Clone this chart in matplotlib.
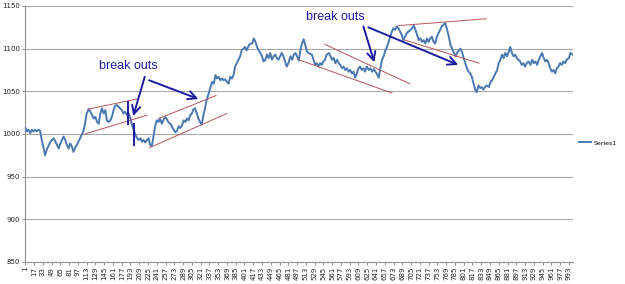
import matplotlib.pyplot as plt

obs = [1, 4, 7, 10, 13, 16, 19, 22, 25, 28, 31, 34, 37, 41, 44, 47, 50, 53, 56, 59,
       62, 65, 68, 71, 74, 77, 80, 83, 86, 89, 92, 95, 98, 101, 104, 107, 110, 113, 117, 120,
       123, 126, 129, 132, 135, 138, 141, 144, 147, 150, 153, 156, 159, 162, 165, 168, 171, 174, 177, 180,
       183, 187, 190, 193, 196, 199, 202, 205, 208, 211, 214, 217, 220, 223, 226, 229, 232, 235, 238, 241,
       244, 247, 250, 253, 256, 259, 262, 266, 269, 272, 275, 278, 281, 284, 287, 290, 293, 296, 299, 302,
       305, 308, 311, 314, 317, 320, 323, 326, 329, 332, 336, 339, 342, 345, 348, 351, 354, 357, 360, 363,
       366, 369, 372, 375, 378, 381, 384, 387, 390, 393, 396, 399, 402, 405, 409, 412, 415, 418, 421, 424,
       427, 430, 433, 436, 439, 442, 445, 448, 451, 454, 457, 460, 463, 466, 469, 472, 475, 478, 481, 485,
       488, 491, 494, 497, 500, 503, 506, 509, 512, 515, 518, 521, 524, 527, 530, 533, 536, 539, 542, 545,
       548, 551, 555, 558, 561, 564, 567, 570, 573, 576, 579, 582, 585, 588, 591, 594, 597, 600, 603, 606,
       609, 612, 615, 618, 621, 624, 628, 631, 634, 637, 640, 643, 646, 649, 652, 655, 658, 661, 664, 667,
       670, 673, 676, 679, 682, 685, 688, 691, 694, 697, 700, 704, 707, 710, 713, 716, 719, 722, 725, 728,
       731, 734, 737, 740, 743, 746, 749, 752, 755, 758, 761, 764, 767, 770, 774, 777, 780, 783, 786, 789,
       792, 795, 798, 801, 804, 807, 810, 813, 816, 819, 822, 825, 828, 831, 834, 837, 840, 843, 847, 850,
       853, 856, 859, 862, 865, 868, 871, 874, 877, 880, 883, 886, 889, 892, 895, 898, 901, 904, 907, 910,
       913, 916, 919, 923, 926, 929, 932, 935, 938, 941, 944, 947, 950, 953, 956, 959, 962, 965, 968, 971,
       974, 977, 980, 983, 986, 989, 993, 996, 1000]
price = [1007, 1003, 1005, 1001, 1005, 1003, 1005, 1003, 1005, 1004, 993, 985, 975, 983, 987, 991, 993, 995, 991, 987,
         983, 989, 993, 997, 993, 987, 983, 989, 985, 979, 984, 987, 991, 995, 999, 1003, 1012, 1024, 1029, 1026,
         1022, 1018, 1020, 1014, 1012, 1024, 1030, 1024, 1028, 1016, 1014, 1016, 1020, 1028, 1033, 1034, 1032, 1030, 1028, 1024,
         1026, 1022, 1024, 1018, 1010, 1005, 999, 995, 993, 995, 991, 993, 990, 993, 995, 987, 986, 997, 1009, 1016,
         1014, 1018, 1012, 1016, 1020, 1018, 1014, 1012, 1008, 1005, 1002, 1004, 1009, 1007, 1010, 1016, 1014, 1018, 1016, 1022,
         1024, 1029, 1030, 1024, 1018, 1014, 1011, 1022, 1030, 1040, 1048, 1055, 1061, 1059, 1069, 1065, 1067, 1063, 1065, 1063,
         1064, 1061, 1059, 1067, 1065, 1069, 1079, 1083, 1087, 1091, 1098, 1100, 1102, 1098, 1104, 1106, 1106, 1112, 1108, 1102,
         1098, 1095, 1091, 1085, 1087, 1093, 1089, 1095, 1087, 1091, 1093, 1089, 1087, 1091, 1095, 1091, 1085, 1079, 1083, 1091,
         1087, 1093, 1095, 1091, 1086, 1098, 1106, 1111, 1104, 1097, 1095, 1094, 1093, 1087, 1081, 1083, 1079, 1083, 1081, 1085,
         1087, 1093, 1095, 1091, 1087, 1089, 1083, 1087, 1083, 1081, 1077, 1079, 1075, 1077, 1073, 1075, 1071, 1073, 1066, 1071,
         1077, 1079, 1075, 1077, 1073, 1079, 1075, 1077, 1073, 1076, 1073, 1070, 1066, 1077, 1087, 1091, 1098, 1102, 1108, 1114,
         1120, 1124, 1122, 1126, 1124, 1120, 1116, 1110, 1114, 1118, 1120, 1122, 1124, 1127, 1122, 1116, 1110, 1112, 1108, 1110,
         1106, 1112, 1108, 1112, 1114, 1108, 1106, 1114, 1118, 1122, 1126, 1128, 1130, 1124, 1114, 1104, 1100, 1095, 1091, 1095,
         1098, 1100, 1096, 1089, 1083, 1077, 1073, 1071, 1067, 1059, 1052, 1049, 1057, 1054, 1055, 1052, 1055, 1057, 1055, 1061,
         1063, 1067, 1071, 1075, 1083, 1087, 1093, 1089, 1095, 1091, 1096, 1102, 1095, 1091, 1093, 1089, 1087, 1085, 1081, 1083,
         1079, 1083, 1085, 1081, 1087, 1083, 1085, 1081, 1087, 1091, 1095, 1089, 1085, 1087, 1083, 1077, 1073, 1075, 1071, 1077,
         1079, 1083, 1081, 1085, 1083, 1087, 1089, 1095, 1093]

x_labels = list(range(1, 1001, 16))
y_ticks = [850, 900, 950, 1000, 1050, 1100, 1150]

# hand drawn channel lines (start obs, start value, end obs, end value)
channels = [(115, 1029, 205, 1041), (110, 1000, 223, 1022),
            (244, 1018, 349, 1045), (228, 984, 369, 1024),
            (548, 1105, 702, 1059), (500, 1087, 670, 1048),
            (682, 1127, 842, 1135), (694, 1110, 829, 1083)]
# arrows: (from obs, from value, to obs, to value)
arrows = [(219, 1067, 198, 1021), (227, 1063, 317, 1041),
          (618, 1126, 638, 1084), (627, 1125, 791, 1081)]
marks = [(188, 1038, 1012), (199, 1012, 987)]
notes = [(190, 1080), (566, 1137)]

blue = '#1c1c9e'

fig = plt.figure(figsize=(6.25, 2.84), dpi=100)
ax = fig.add_axes([0.04, 0.0775, 0.8768, 0.9014])

ax.plot(obs, price, color='#4a78b0', lw=1.4, label='Series1', zorder=3)

for x0, y0, x1, y1 in channels:
    ax.plot([x0, x1], [y0, y1], color='#b5555a', lw=0.7, zorder=4)

for x0, y0, x1, y1 in arrows:
    ax.annotate('', xy=(x1, y1), xytext=(x0, y0),
                arrowprops=dict(arrowstyle='->,head_length=0.5,head_width=0.25',
                                color=blue, lw=1.4, shrinkA=0, shrinkB=0,
                                mutation_scale=12), zorder=5)

for x, y0, y1 in marks:
    ax.plot([x, x], [y0, y1], color=blue, lw=1.4, zorder=5)

for x, y in notes:
    ax.text(x, y, 'break outs', color=blue, fontsize=9, family='Liberation Sans',
            ha='center', va='center', zorder=6)

ax.set_xlim(0.5, 1000.5)
ax.set_ylim(850, 1150)
ax.set_yticks(y_ticks)
ax.set_yticklabels([str(v) for v in y_ticks], fontsize=5)
ax.set_xticks(x_labels)
ax.set_xticklabels([str(v) for v in x_labels], rotation=90, fontsize=5)
ax.tick_params(axis='both', colors='#808080', length=2, width=0.6, pad=1.5, labelcolor='#222222')
ax.grid(axis='y', color='#a8a8a8', lw=0.8)
ax.set_axisbelow(True)
for side in ['top', 'right']:
    ax.spines[side].set_visible(False)
for side in ['left', 'bottom']:
    ax.spines[side].set_color('#909090')
    ax.spines[side].set_linewidth(0.8)

ax.legend(loc='center left', bbox_to_anchor=(1.004, 0.465), frameon=False,
          fontsize=4.5, handlelength=2.0, handletextpad=0.3, borderaxespad=0.4,
          borderpad=0.2)

fig.savefig('out.png', dpi=100)
